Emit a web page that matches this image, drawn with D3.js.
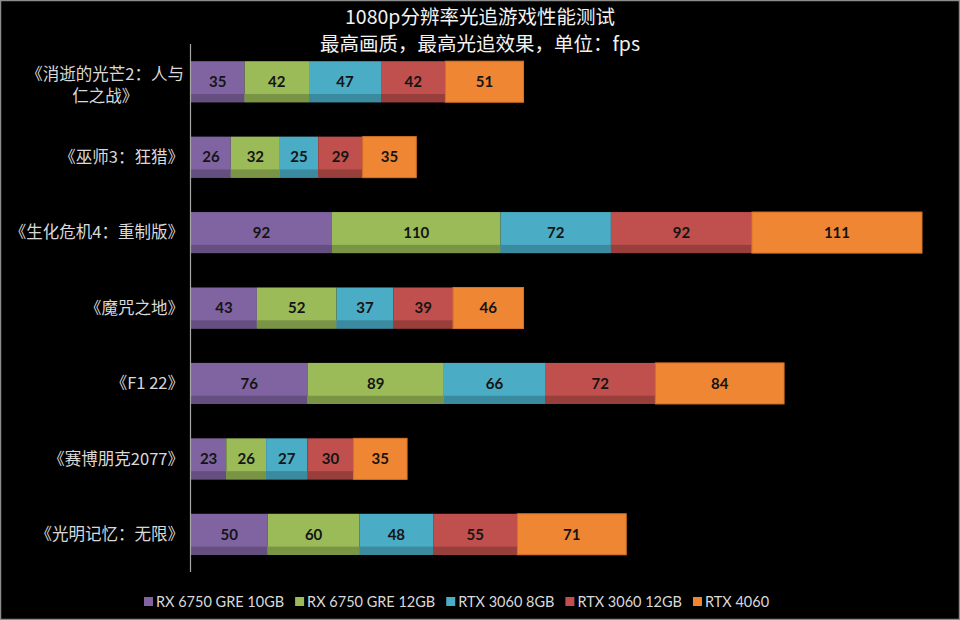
<!DOCTYPE html>
<html><head><meta charset="utf-8">
<script src="https://cdn.jsdelivr.net/npm/d3@7/dist/d3.min.js"></script>
<style>
html,body{margin:0;padding:0;background:#000;}
svg{display:block;}
</style></head>
<body><svg id="chart" width="960" height="620"></svg>
<script>
const categories = ["《消逝的光芒2：人与仁之战》","《巫师3：狂猎》","《生化危机4：重制版》","《魔咒之地》","《F1 22》","《赛博朋克2077》","《光明记忆：无限》"];
const seriesNames = ["RX 6750 GRE 10GB","RX 6750 GRE 12GB","RTX 3060 8GB","RTX 3060 12GB","RTX 4060"];
const rx6750_10 = [35,26,92,43,76,23,50];
const rx6750_12 = [42,32,110,52,89,26,60];
const rtx3060_8 = [47,25,72,37,66,27,48];
const rtx3060_12 = [42,29,92,39,72,30,55];
const rtx4060 = [51,35,111,46,84,35,71];
const titleLines = ["1080p分辨率光追游戏性能测试","最高画质，最高光追效果，单位：fps"];

const colors = ["#8064A2","#9BBB59","#4BACC6","#C0504D","#EF8633"];
const darkColors = ["#654F80","#7A9446","#3A8AA0","#983F3C",null];

const seriesValues = [rx6750_10, rx6750_12, rtx3060_8, rtx3060_12, rtx4060];
const rows = categories.map((c,i)=>{
  const o = {cat:c};
  seriesNames.forEach((s,j)=>o[s]=seriesValues[j][i]);
  return o;
});
const stacked = d3.stack().keys(seriesNames)(rows);
const maxTotal = d3.max(stacked[stacked.length-1], d=>d[1]);

const svg = d3.select("#chart");
svg.append("rect").attr("x",0.5).attr("y",0.5).attr("width",959).attr("height",619)
  .attr("fill","#000").attr("stroke","#8c8c8c").attr("stroke-width",1.5);

const x = d3.scaleLinear().domain([0,maxTotal]).range([191,922]);
const y = d3.scaleBand().domain(categories).range([44,572]).paddingInner(0.456).paddingOuter(0.228);
const strip = y.bandwidth()*0.2;

// title
svg.append("g").selectAll("text").data(titleLines).join("text")
  .attr("x",480).attr("y",(d,i)=>24+i*27)
  .attr("text-anchor","middle")
  .attr("fill","#f2f2f2")
  .style("font-family","'Noto Sans CJK SC', Lato, sans-serif")
  .style("font-size","19.5px")
  .text(d=>d);

// bars
const layers = svg.append("g").selectAll("g").data(stacked).join("g");
layers.each(function(layer, li){
  const g = d3.select(this);
  g.selectAll("rect.main").data(layer).join("rect").attr("class","main")
    .attr("x",d=>x(d[0])).attr("y",d=>y(d.data.cat))
    .attr("width",d=>x(d[1])-x(d[0])).attr("height",y.bandwidth())
    .attr("fill",colors[li])
    .attr("stroke", li===4 ? "#D7722A" : "none").attr("stroke-width", li===4?1:0);
  if(darkColors[li]){
    g.selectAll("rect.dark").data(layer).join("rect").attr("class","dark")
      .attr("x",d=>x(d[0])).attr("y",d=>y(d.data.cat)+y.bandwidth()-strip)
      .attr("width",d=>x(d[1])-x(d[0])).attr("height",strip)
      .attr("fill",darkColors[li]);
  }
  g.selectAll("text").data(layer).join("text")
    .attr("x",d=>(x(d[0])+x(d[1]))/2)
    .attr("y",d=>y(d.data.cat)+y.bandwidth()/2)
    .attr("dy","0.35em")
    .attr("text-anchor","middle")
    .attr("fill","#141414")
    .style("font-family","Lato, 'Open Sans', sans-serif")
    .style("font-weight","bold")
    .style("font-size","15px")
    .text(d=>d[1]-d[0]);
});

// axis line
svg.append("line").attr("x1",190.5).attr("x2",190.5).attr("y1",44).attr("y2",572)
  .attr("stroke","#a6a6a6").attr("stroke-width",1.2);

// category labels
const labelG = svg.append("g");
const maxW = 182;
categories.forEach(c=>{
  const cy = y(c)+y.bandwidth()/2;
  const t = labelG.append("text").attr("fill","#d9d9d9")
    .style("font-family","'Noto Sans CJK SC', sans-serif").style("font-size","16.5px");
  t.text(c);
  const w = t.node().getComputedTextLength();
  if(w <= maxW){
    t.attr("x",184).attr("y",cy).attr("dy","0.35em").attr("text-anchor","end");
  } else {
    const chars = Array.from(c);
    let line1 = "";
    for(let k=0;k<chars.length;k++){
      t.text(line1+chars[k]);
      if(t.node().getComputedTextLength()>165) break;
      line1 += chars[k];
    }
    const line2 = c.slice(line1.length);
    t.text(line1);
    const w1 = t.node().getComputedTextLength();
    const center = 184 - w1/2;
    t.text(null).attr("text-anchor","middle");
    t.append("tspan").attr("x",center).attr("y",cy-7).attr("dy","0.35em").text(line1);
    t.append("tspan").attr("x",center).attr("y",cy+15).attr("dy","0.35em").text(line2);
  }
});

// legend
const leg = svg.append("g");
const items = seriesNames.map((s,i)=>{
  const g = leg.append("g");
  g.append("rect").attr("width",9).attr("height",9).attr("y",-5).attr("fill",colors[i]);
  const tx = g.append("text").attr("x",12).attr("y",0).attr("dy","0.35em")
    .attr("fill","#d9d9d9").style("font-family","Lato, sans-serif").style("font-size","14.5px").text(s);
  return {g, w: 12 + tx.node().getComputedTextLength()};
});
const gap = 11;
let cx = 144;
items.forEach(it=>{ it.g.attr("transform",`translate(${cx},602)`); cx += it.w+gap; });
</script>
</body></html>
